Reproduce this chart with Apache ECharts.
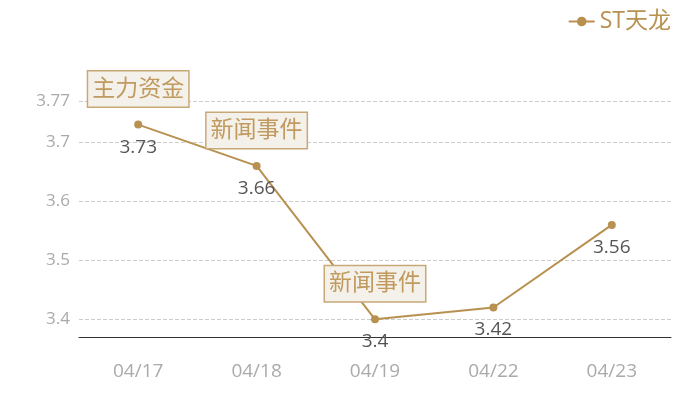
<!DOCTYPE html>
<html><head><meta charset="utf-8">
<script src="https://cdn.jsdelivr.net/npm/echarts@6/dist/echarts.min.js"></script>
<style>html,body{margin:0;padding:0;background:#fff}#c{width:700px;height:400px}</style>
</head><body><div id="c"></div>
<script>
const categories = ['04/17','04/18','04/19','04/22','04/23'];
const prices = [3.73, 3.66, 3.4, 3.42, 3.56];
const eventDates = ['04/17','04/18','04/19'];
const eventValues = [3.73, 3.66, 3.4];
const eventNames = ['主力资金','新闻事件','新闻事件'];
const seriesName = 'ST天龙';

const gold = '#b8904f';
const font = '"Open Sans", "Noto Sans CJK SC", sans-serif';
const chart = echarts.init(document.getElementById('c'));
chart.setOption({
  animation: false,
  textStyle: {fontFamily: font},
  legend: {
    right: 24, top: 5,
    itemWidth: 26, itemHeight: 12, itemGap: 10,
    textStyle: {color: gold, fontSize: 23, fontFamily: font},
    data: [seriesName]
  },
  grid: {left: 79, right: 29, top: 101, bottom: 63},
  xAxis: {
    type: 'category', data: categories, boundaryGap: true,
    axisLine: {lineStyle: {color: '#333'}},
    axisTick: {show: false},
    axisLabel: {color: '#aaa', fontSize: 19, margin: 25, fontFamily: font}
  },
  yAxis: {
    type: 'value', min: 3.37, max: 3.77,
    axisLine: {show: false}, axisTick: {show: false},
    axisLabel: {color: '#aaa', fontSize: 17, margin: 9, showMinLabel: false, fontFamily: font},
    splitLine: {lineStyle: {color: '#ccc', type: 'dashed'}}
  },
  series: [{
    name: seriesName, type: 'line', data: prices,
    symbol: 'circle', symbolSize: 8,
    itemStyle: {color: gold},
    lineStyle: {color: gold, width: 2},
    label: {show: true, position: 'bottom', distance: 9, color: '#555', fontSize: 19, fontFamily: font},
    markPoint: {
      symbol: 'circle', symbolSize: 0,
      label: {
        show: true, position: 'top', distance: 18,
        formatter: p => p.name,
        color: '#c09a5e', fontSize: 23, fontFamily: font,
        backgroundColor: '#f4f0ea', borderColor: '#c9a878', borderWidth: 1.5,
        padding: [6, 4, 6, 4]
      },
      data: eventDates.map((d, i) => ({name: eventNames[i], coord: [d, eventValues[i]], value: eventValues[i]}))
    }
  }]
});
</script></body></html>
